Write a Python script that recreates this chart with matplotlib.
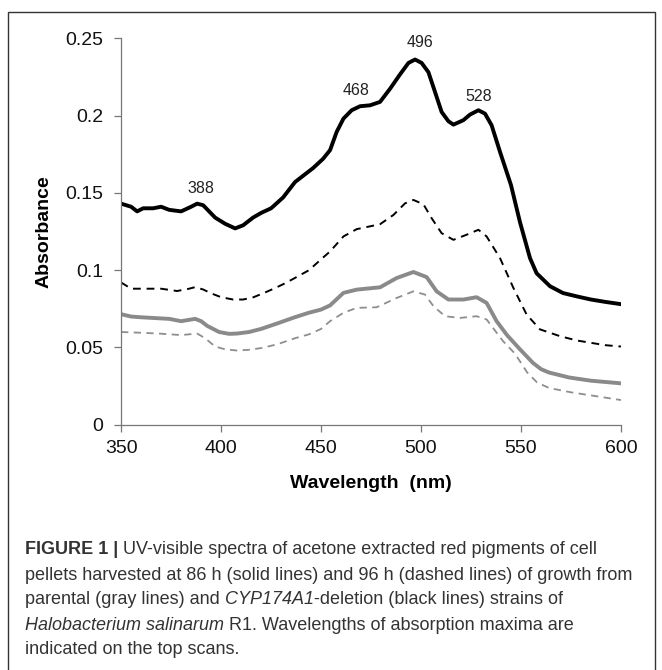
import matplotlib
matplotlib.use("Agg")
import matplotlib.pyplot as plt
from matplotlib.patches import Rectangle

# wavelength (nm) / absorbance
wl_black_86 = [350, 355, 358, 361, 366, 370, 374, 380, 385, 388, 391, 394, 397, 402, 407,
               411, 416, 420, 425, 431, 437, 441, 446, 451, 454.5, 457.8, 461.2, 465.3,
               469.5, 474.5, 479.5, 484.5, 489.5, 493.7, 497, 500.3, 503.7, 507, 510.3,
               513.7, 516.2, 521.2, 524.5, 528.7, 532, 535.3, 539.5, 545, 549.5, 554.5,
               557.8, 564.5, 571, 578, 585, 592, 600]
ab_black_86 = [0.143, 0.141, 0.138, 0.140, 0.140, 0.141, 0.139, 0.138, 0.141, 0.143, 0.142,
               0.138, 0.134, 0.130, 0.127, 0.129, 0.134, 0.137, 0.140, 0.147, 0.157, 0.161,
               0.166, 0.172, 0.1776, 0.1894, 0.198, 0.2034, 0.206, 0.2066, 0.2088, 0.2173,
               0.2266, 0.234, 0.2362, 0.234, 0.228, 0.2152, 0.2023, 0.1963, 0.1941, 0.197,
               0.2006, 0.2034, 0.2012, 0.1937, 0.1765, 0.155, 0.131, 0.1078, 0.098, 0.0896,
               0.0852, 0.083, 0.081, 0.0795, 0.078]

wl_black_96 = [350, 355, 362, 370, 378, 384, 387, 391, 395, 400, 406, 411, 416, 421, 427,
               432, 437, 444, 450, 454.5, 461.2, 467.8, 479.5, 486.2, 492, 496.2, 501.2,
               505.3, 510.3, 516.2, 522.8, 528.7, 532.8, 539.5, 546.2, 552.8, 559.5, 569.5,
               578, 585, 592, 600]
ab_black_96 = [0.092, 0.088, 0.088, 0.088, 0.0865, 0.088, 0.089, 0.0875, 0.085, 0.0825,
               0.081, 0.081, 0.0824, 0.085, 0.0884, 0.0915, 0.095, 0.100, 0.107, 0.1121,
               0.1218, 0.1265, 0.1297, 0.1357, 0.1432, 0.1454, 0.1426, 0.1336, 0.1239,
               0.1196, 0.1229, 0.1261, 0.1218, 0.1078, 0.0885, 0.0713, 0.0617, 0.0573,
               0.0545, 0.053, 0.0515, 0.0506]

wl_gray_86 = [350, 355, 359, 367, 374, 380, 387, 390, 393, 399, 404, 408, 414, 420, 428,
              437, 444, 450, 454.5, 461.2, 467.8, 479.5, 487.8, 496.2, 502.8, 507.8, 513.7,
              521.2, 527.8, 532.8, 537.8, 543, 549.5, 556, 560, 564, 574, 585, 600]
ab_gray_86 = [0.0715, 0.070, 0.0696, 0.069, 0.0685, 0.067, 0.0685, 0.067, 0.064, 0.060,
              0.0588, 0.059, 0.060, 0.062, 0.0655, 0.0696, 0.0725, 0.0745, 0.0772, 0.0853,
              0.0874, 0.0889, 0.0949, 0.0988, 0.0955, 0.0863, 0.081, 0.081, 0.0825, 0.0788,
              0.067, 0.058, 0.0488, 0.040, 0.036, 0.0338, 0.0306, 0.0285, 0.0268]

wl_gray_96 = [350, 360, 370, 380, 388, 392, 397, 402, 408, 414, 420, 428, 437, 444, 450,
              454.5, 461.2, 467.8, 477.8, 487.8, 496.2, 502, 506.2, 512, 519.5, 527.8,
              532.8, 541, 547, 553, 558, 564, 575, 585, 600]
ab_gray_96 = [0.060, 0.0595, 0.0589, 0.058, 0.059, 0.056, 0.0506, 0.0488, 0.048, 0.0485,
              0.0496, 0.052, 0.056, 0.0585, 0.062, 0.067, 0.0724, 0.0756, 0.076, 0.082,
              0.0863, 0.0842, 0.0767, 0.0702, 0.0691, 0.0702, 0.0681, 0.0541, 0.046,
              0.034, 0.0274, 0.0238, 0.021, 0.019, 0.016]

peak_labels = ["388", "468", "496", "528"]
peak_x = [390, 467.5, 499.5, 529]
peak_y = [0.153, 0.216, 0.247, 0.212]

plt.rcParams['font.family'] = ['Liberation Sans', 'DejaVu Sans']

fig = plt.figure(figsize=(6.62, 6.70), dpi=100)
ax = fig.add_axes([0.183, 0.366, 0.755, 0.577])

ax.plot(wl_gray_96, ab_gray_96, color='#8e8e8e', lw=1.3, dashes=(4, 3))
ax.plot(wl_black_96, ab_black_96, color='black', lw=1.4, dashes=(4, 3))
ax.plot(wl_gray_86, ab_gray_86, color='#8a8a8a', lw=2.8, solid_joinstyle='round')
ax.plot(wl_black_86, ab_black_86, color='black', lw=2.8, solid_joinstyle='round')

for lab, px, py in zip(peak_labels, peak_x, peak_y):
    ax.text(px, py, lab, ha='center', va='center', fontsize=11.5, color='#222222')

ax.set_xlim(350, 600)
ax.set_ylim(0, 0.25)
ax.set_xticks([350, 400, 450, 500, 550, 600])
ax.set_yticks([0, 0.05, 0.1, 0.15, 0.2, 0.25])
ax.set_yticklabels(['0', '0.05', '0.1', '0.15', '0.2', '0.25'])
for s in ['top', 'right']:
    ax.spines[s].set_visible(False)
for s in ['left', 'bottom']:
    ax.spines[s].set_color('#777777')
    ax.spines[s].set_linewidth(0.9)
ax.tick_params(direction='out', length=5, width=0.9, color='#777777',
               labelsize=14, labelcolor='#111111')
ax.tick_params(axis='x', pad=6)
ax.tick_params(axis='y', pad=8)
ax.set_xlabel('Wavelength  (nm)', fontsize=14, fontweight='bold', labelpad=13)
ax.set_ylabel('Absorbance', fontsize=14, fontweight='bold', labelpad=9)

# border around the figure panel
fig.patches.append(Rectangle((8 / 662, -0.05), 647 / 662, 1.05 - 12 / 670,
                             transform=fig.transFigure, fill=False,
                             edgecolor='#333333', lw=1.0, clip_on=False))

# caption, drawn piece by piece so bold / italic runs line up
caption = [
    [("FIGURE 1 | ", 'bold', 'normal'),
     ("UV-visible spectra of acetone extracted red pigments of cell", 'normal', 'normal')],
    [("pellets harvested at 86 h (solid lines) and 96 h (dashed lines) of growth from", 'normal', 'normal')],
    [("parental (gray lines) and ", 'normal', 'normal'), ("CYP174A1", 'normal', 'italic'),
     ("-deletion (black lines) strains of", 'normal', 'normal')],
    [("Halobacterium salinarum", 'normal', 'italic'),
     (" R1. Wavelengths of absorption maxima are", 'normal', 'normal')],
    [("indicated on the top scans.", 'normal', 'normal')],
]
renderer = fig.canvas.get_renderer()
y0 = 1 - 550 / 670
for i, line in enumerate(caption):
    x = 25 / 662
    y = y0 - i * 25 / 670
    for txt, weight, style in line:
        t = fig.text(x, y, txt, fontsize=13, fontweight=weight, fontstyle=style,
                     color='#333333', va='center', ha='left')
        bb = t.get_window_extent(renderer)
        x = bb.x1 / fig.bbox.width

fig.savefig('out.png', dpi=100)
